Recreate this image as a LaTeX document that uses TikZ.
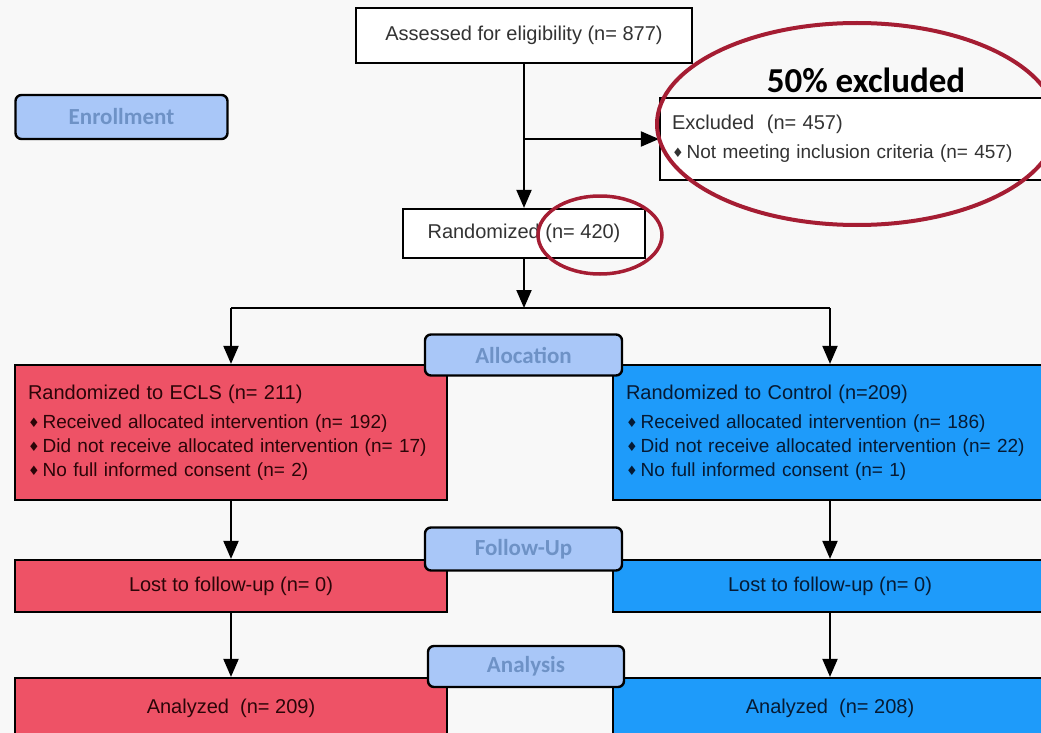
\documentclass[tikz,border=0pt]{standalone}
\usepackage{fontspec}
\setmainfont{Liberation Sans}
\newfontfamily\calib{Carlito}
\newfontfamily\djv{DejaVu Sans}
\usetikzlibrary{arrows.meta}
\definecolor{bgc}{HTML}{F8F8F8}
\definecolor{eclsred}{HTML}{EE5266}
\definecolor{ctrlblue}{HTML}{1E9BFA}
\definecolor{lblfill}{HTML}{A9C7F8}
\definecolor{lbltext}{HTML}{6E92C6}
\definecolor{ringred}{HTML}{A51D33}
\definecolor{redtext}{HTML}{2B0508}
\definecolor{bluetext}{HTML}{061A33}
\definecolor{graytext}{HTML}{333333}
\newcommand{\bul}{{\djv\fontsize{13}{13}\selectfont\raisebox{1pt}{♦}}\hspace{3pt}}
\begin{document}
\begin{tikzpicture}[x=1pt,y=-1pt,
  wbox/.style={draw=black, line width=2.2pt, fill=white, text=graytext, font=\fontsize{20}{24}\selectfont, inner sep=0pt},
  cbox/.style={draw=black, line width=2.2pt, inner sep=0pt, font=\fontsize{20}{24}\selectfont},
  redbox/.style={cbox, fill=eclsred, text=redtext},
  bluebox/.style={cbox, fill=ctrlblue, text=bluetext},
  lbl/.style={draw=black, line width=2.4pt, rounded corners=6pt, fill=lblfill, text=lbltext, font=\calib\bfseries\fontsize{23}{26}\selectfont, inner sep=0pt},
  conn/.style={line width=2pt},
  arr/.style={line width=2pt, -{Triangle[length=18pt,width=15pt]}},
  ring/.style={draw=ringred, line width=4pt}
]
\fill[bgc] (0,0) rectangle (1041,733);
\clip (0,0) rectangle (1041,733);

% main boxes
\node[wbox, minimum width=336, minimum height=55] (assess) at (524,35.5) {Assessed for eligibility (n= 877)};
\node[wbox, minimum width=400, minimum height=82, text width=376, align=left, inner xsep=12pt, font=\fontsize{19}{29}\selectfont] (excl) at (860,139)
  {{\fontsize{20}{24}\selectfont Excluded\ \ (n= 457)}\\\bul Not meeting inclusion criteria (n= 457)};
\node[wbox, minimum width=242, minimum height=49] (rand) at (524,233.5) {Randomized (n= 420)};

\node[redbox, minimum width=432, minimum height=135, text width=406, align=left, inner xsep=13pt, font=\fontsize{19}{24}\selectfont] (ecls) at (231,432.5)
  {{\fontsize{20}{24}\selectfont Randomized to ECLS (n= 211)}\\[5pt]
   \bul Received allocated intervention (n= 192)\\
   \bul Did not receive allocated intervention (n= 17)\\
   \bul No full informed consent (n= 2)};
\node[bluebox, minimum width=434, minimum height=135, text width=408, align=left, inner xsep=13pt, font=\fontsize{19}{24}\selectfont] (ctrl) at (830,432.5)
  {{\fontsize{20}{24}\selectfont Randomized to Control (n=209)}\\[5pt]
   \bul Received allocated intervention (n= 186)\\
   \bul Did not receive allocated intervention (n= 22)\\
   \bul No full informed consent (n= 1)};

\node[redbox, minimum width=432, minimum height=52] (lostl) at (231,586) {Lost to follow-up (n= 0)};
\node[bluebox, minimum width=434, minimum height=52] (lostr) at (830,586) {Lost to follow-up (n= 0)};

\node[redbox, minimum width=432, minimum height=60] (anal) at (231,708) {Analyzed\ \ (n= 209)};
\node[bluebox, minimum width=434, minimum height=60] (anar) at (830,708) {Analyzed\ \ (n= 208)};

% phase labels
\node[lbl, minimum width=212, minimum height=44] (enroll) at (121.5,117) {Enrollment};
\node[lbl, minimum width=197, minimum height=41] (alloc) at (523.5,355) {Allocation};
\node[lbl, minimum width=197, minimum height=43] (follow) at (523.5,549) {Follow-Up};
\node[lbl, minimum width=196, minimum height=41] (analysis) at (526,666.5) {Analysis};

% connectors
\coordinate (br) at (524,139);
\coordinate (split) at (524,308);
\coordinate (sl) at (231,308);
\coordinate (sr) at (830,308);
\draw[arr] (assess.south) -- (rand.north);
\draw[arr] (br) -- (excl.west);
\draw[arr] (rand.south) -- (split);
\draw[conn] (sl) -- (sr);
\draw[arr] (sl) -- (ecls.north);
\draw[arr] (sr) -- (ctrl.north);
\draw[arr] (ecls.south) -- (lostl.north);
\draw[arr] (ctrl.south) -- (lostr.north);
\draw[arr] (lostl.south) -- (anal.north);
\draw[arr] (lostr.south) -- (anar.north);

% annotations
\node[font=\calib\bfseries\fontsize{35}{40}\selectfont, text=black, inner sep=0pt] (pct) at (866,80) {50\% excluded};
\draw[ring] (857,124) ellipse [x radius=200, y radius=101];
\draw[ring, line width=3.5pt] (600,235) ellipse [x radius=62, y radius=39];
\end{tikzpicture}
\end{document}
